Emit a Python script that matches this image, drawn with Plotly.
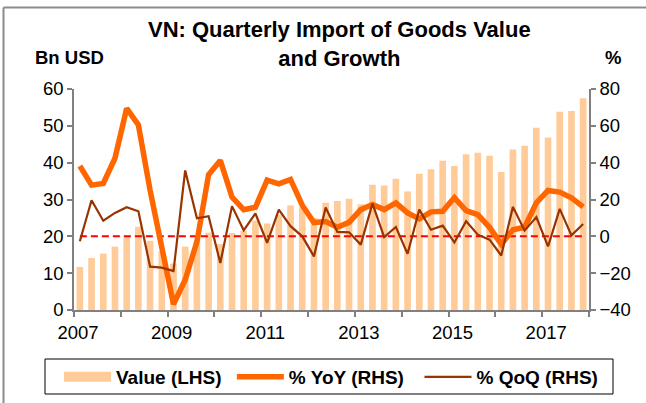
import plotly.graph_objects as go

# ---- data ----
years = list(range(2007, 2018))
quarters = [f"{y}Q{q}" for y in years for q in (1, 2, 3, 4)]

value_bn_usd = [11.7, 14.1, 15.3, 17.2, 19.8, 22.6, 18.8, 16.0,
                12.6, 17.2, 18.8, 21.0, 17.9, 20.9, 21.5, 24.3,
                23.5, 25.8, 28.4, 27.9, 25.0, 29.1, 29.6, 30.2,
                28.7, 34.0, 33.8, 35.6, 32.2, 37.0, 38.2, 40.5,
                39.1, 42.3, 42.7, 41.9, 37.5, 43.6, 44.6, 49.5,
                46.8, 53.8, 54.0, 57.5]

yoy_pct = [38.2, 27.8, 28.7, 42.4, 69.5, 60.5, 25.0, -5.0,
           -36.9, -23.6, -3.0, 33.5, 41.2, 21.3, 14.5, 15.8,
           30.5, 28.5, 30.9, 16.9, 7.5, 8.0, 4.9, 7.6,
           14.5, 17.3, 14.5, 18.2, 12.7, 9.5, 13.3, 13.6,
           21.0, 14.0, 11.8, 4.9, -4.2, 3.6, 4.9, 18.2,
           24.9, 24.0, 20.9, 16.0]

qoq_pct = [-2.7, 19.6, 8.5, 12.7, 15.8, 13.6, -16.5, -17.0,
           -18.9, 35.8, 9.8, 10.9, -14.5, 16.4, 3.3, 12.4,
           -3.6, 14.5, 5.5, 0.0, -10.9, 15.7, 2.4, 2.2,
           -4.5, 17.8, -0.4, 5.1, -9.5, 14.5, 3.6, 5.8,
           -3.3, 8.2, 0.9, -1.8, -10.4, 16.0, 3.1, 10.5,
           -5.5, 14.9, 0.5, 6.7]

zero_ref = [0.0] * len(quarters)

series_names = ["Value (LHS)", "% YoY (RHS)", "% QoQ (RHS)"]

tick_years = list(range(2007, 2019))
tick_labels = [str(y) if (y - 2007) % 2 == 0 and y < 2018 else "" for y in tick_years]

# quarter position on a continuous year axis (middle of each quarter)
x_pos = [int(q[:4]) + (int(q[-1]) - 0.5) / 4 for q in quarters]

FONT = "Liberation Sans, Arial, sans-serif"
C_BAR = "#FFCC99"
C_YOY = "#FF6600"
C_QOQ = "#993300"
C_AX = "#808080"
PAD = "\u00a0"  # small trailing gap between legend entries

fig = go.Figure()

fig.add_trace(go.Bar(x=x_pos, y=value_bn_usd, name=series_names[0], marker_color=C_BAR,
                     marker_line_width=0, yaxis="y", showlegend=False, legendgroup="val"))
# legend stand-in for the bars (wide flat swatch like the reference)
fig.add_trace(go.Scatter(x=[None], y=[None], mode="lines", name=series_names[0] + PAD,
                         line=dict(color=C_BAR, width=10), legendgroup="val", yaxis="y"))
fig.add_trace(go.Scatter(x=x_pos, y=zero_ref, mode="lines", showlegend=False,
                         line=dict(color="#FF0000", width=2, dash="7px,4px"), yaxis="y2",
                         hoverinfo="skip"))
fig.add_trace(go.Scatter(x=x_pos, y=yoy_pct, mode="lines", name=series_names[1] + PAD * 2,
                         line=dict(color=C_YOY, width=5.5), yaxis="y2"))
fig.add_trace(go.Scatter(x=x_pos, y=qoq_pct, mode="lines", name=series_names[2],
                         line=dict(color=C_QOQ, width=2.2), yaxis="y2"))

L, R, T, B = 74, 57, 89, 93
W, H = 646, 403
PW, PH = W - L - R, H - T - B

def px(xp):
    return (xp - L) / PW

def py(yp):
    return (H - B - yp) / PH

axis_common = dict(showgrid=False, zeroline=False, showline=True, linecolor=C_AX, linewidth=1.5,
                   ticks="outside", ticklen=5, tickwidth=1.5, tickcolor=C_AX, automargin=False,
                   tickfont=dict(family=FONT, size=18.5, color="#000000"))

fig.update_layout(
    width=W, height=H,
    margin=dict(l=L, r=R, t=T, b=B, pad=0, autoexpand=False),
    paper_bgcolor="white", plot_bgcolor="white",
    bargap=0.43,
    font=dict(family=FONT, color="#000000"),
    xaxis=dict(range=[2007, 2018], tickmode="array", tickvals=tick_years, ticktext=tick_labels,
               ticklabelshift=4, **axis_common),
    yaxis=dict(range=[0, 60], dtick=10, tick0=0, **axis_common),
    yaxis2=dict(range=[-40, 80], dtick=20, tick0=-40, overlaying="y", side="right", **axis_common),
    legend=dict(orientation="h", xref="paper", yref="paper",
                x=px(59), xanchor="left", y=py(377), yanchor="middle",
                itemwidth=47, borderwidth=0, bgcolor="rgba(0,0,0,0)",
                font=dict(family=FONT, size=19, weight="bold", color="#000000")),
    showlegend=True,
)

ann_font_b = dict(family=FONT, size=22, weight="bold", color="#000000")
fig.add_annotation(text="VN: Quarterly Import of Goods Value<br>and Growth", x=px(339), y=py(44),
                   xref="paper", yref="paper", showarrow=False, font=ann_font_b,
                   xanchor="center", yanchor="middle", align="center")
ax_font = dict(family=FONT, size=18.5, weight="bold", color="#000000")
fig.add_annotation(text="Bn USD", x=px(69), y=py(57), xref="paper", yref="paper",
                   showarrow=False, font=ax_font, xanchor="center", yanchor="middle")
fig.add_annotation(text="%", x=px(613), y=py(57), xref="paper", yref="paper",
                   showarrow=False, font=ax_font, xanchor="center", yanchor="middle")

# legend frame and chart border
fig.add_shape(type="rect", xref="paper", yref="paper", x0=px(45), x1=px(613), y0=py(394), y1=py(359),
              line=dict(color="#000000", width=1), fillcolor="rgba(0,0,0,0)", layer="above")
fig.add_shape(type="line", xref="paper", yref="paper", x0=px(3.5), x1=px(646), y0=py(7.5), y1=py(7.5),
              line=dict(color="#8C8C8C", width=2))
fig.add_shape(type="line", xref="paper", yref="paper", x0=px(3.5), x1=px(3.5), y0=py(7.5), y1=py(403),
              line=dict(color="#8C8C8C", width=2))

fig.write_html("out.html", config={"displayModeBar": False},
               post_script="document.body.style.margin='0';document.body.style.padding='0';")
